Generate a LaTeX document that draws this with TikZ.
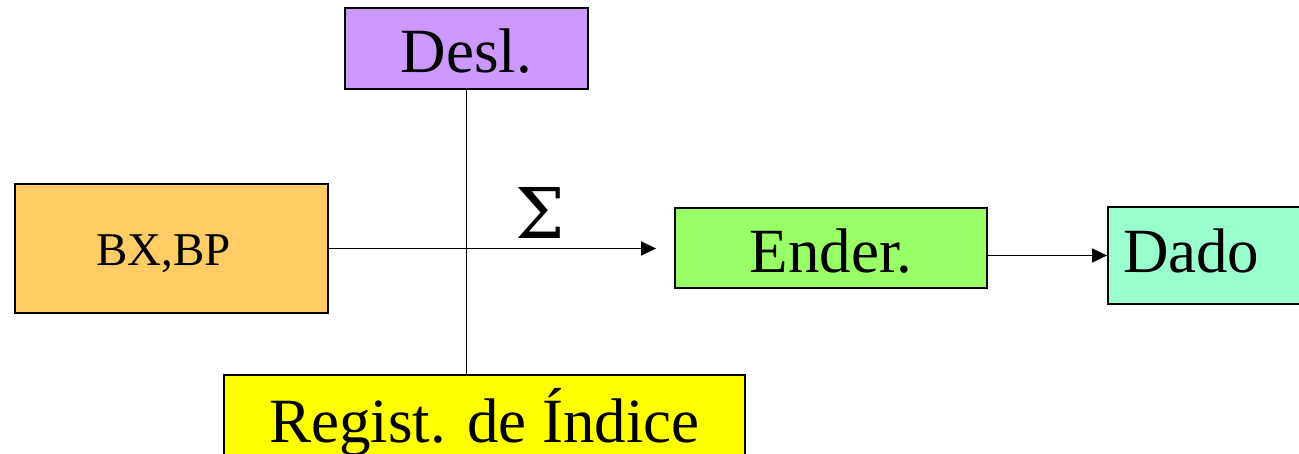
\documentclass[tikz,border=0pt]{standalone}
\usepackage{fontspec}
\setmainfont{Liberation Serif}
\newfontfamily\somafont{DejaVu Serif}
\usetikzlibrary{arrows.meta, positioning}
\definecolor{lilac}{HTML}{CC99FF}
\definecolor{laranja}{HTML}{FFCC66}
\definecolor{verde}{HTML}{99FF66}
\definecolor{agua}{HTML}{99FFCC}
\definecolor{amarelo}{HTML}{FFFF00}

\tikzset{
  blk/.style={draw, line width=1.8pt, inner sep=0pt, text depth=0pt,
    font=\fontsize{63}{70}\selectfont},
}

\begin{document}
\begin{tikzpicture}[x=1pt, y=-1pt, >={Triangle[length=15pt, width=14pt]}, line width=1.5pt]
  \useasboundingbox (0,0) rectangle (1299,453);
  \clip (0,0) rectangle (1299,453);

  % Blocos
  \node[blk, fill=lilac, minimum width=243pt, minimum height=81pt, text height=47pt]
    (desl) at (466.5,48.5) {Desl.};
  \node[blk, fill=laranja, minimum width=313pt, minimum height=129pt, text height=33pt,
    text width=150pt, align=left, font=\fontsize{47}{54}\selectfont]
    (bx) at (171.5,248.5) {BX,BP};
  \node[blk, fill=verde, minimum width=312pt, minimum height=80pt, text height=48pt]
    (ender) at (831,248) {Ender.};
  \node[blk, fill=agua, minimum width=230pt, minimum height=97pt, text height=33pt,
    text width=200pt, align=left]
    (dado) at (1223,255.5) {Dado};
  \node[blk, fill=amarelo, minimum width=521pt, minimum height=86pt, text height=48pt]
    (reg) at (484.5,418) {Regist. de Índice};

  % Soma
  \node[anchor=base, inner sep=0pt, font=\somafont\fontsize{70}{80}\selectfont]
    (sigma) at (540,238) {Σ};

  % Ligacoes
  \draw (desl.south) -- (desl.south |- reg.north);
  \draw[->, shorten >=18pt] (bx.east) -- (bx.east -| ender.west);
  \draw[->] (ender.east |- dado.west) -- (dado.west);
\end{tikzpicture}
\end{document}
